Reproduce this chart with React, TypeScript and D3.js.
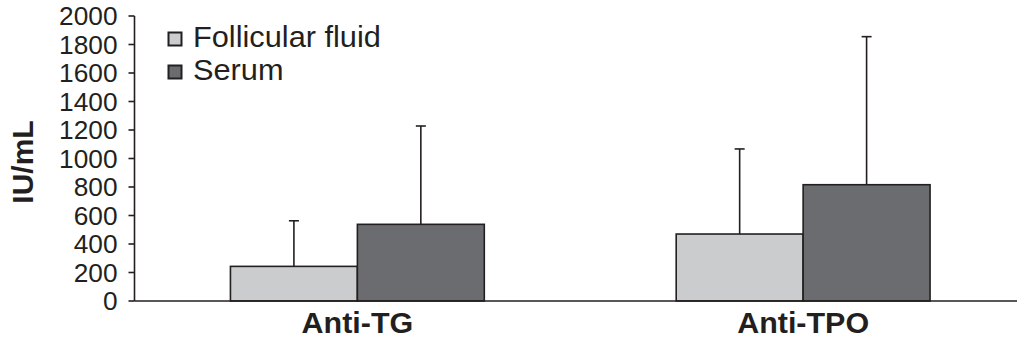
import React from "react";
import * as d3 from "d3";

// Antibody titres (IU/mL): mean and SD per sample type
const categories = ["Anti-TG", "Anti-TPO"];
const seriesNames = ["Follicular fluid", "Serum"];
const follicularMeans = [243, 470];
const follicularSD = [320, 597];
const serumMeans = [538, 816];
const serumSD = [690, 1039];
const yTicks = [0, 200, 400, 600, 800, 1000, 1200, 1400, 1600, 1800, 2000];

const colors = ["#cbcccd", "#6b6c70"];
const ink = "#231f20";
const font = "'Liberation Sans', Arial, sans-serif";

const W = 1017;
const H = 339;
const left = 134.5;
const plotRight = 1026;
const top = 16;
const bottom = 301;

export default function App() {
  const y = d3.scaleLinear().domain([0, 2000]).range([bottom, top]);
  const x0 = d3
    .scaleBand<string>()
    .domain(categories)
    .range([left, plotRight])
    .paddingInner(0.4305)
    .paddingOuter(0.21525);
  const x1 = d3
    .scaleBand<string>()
    .domain(seriesNames)
    .range([0, x0.bandwidth()])
    .padding(0);

  const means = [follicularMeans, serumMeans];
  const sds = [follicularSD, serumSD];

  return (
    <svg
      width={W}
      height={H}
      style={{ position: "absolute", left: 0, top: 0, background: "#fff" }}
      fontFamily={font}
    >
      {/* bars and error bars */}
      {categories.map((c, ci) => (
        <g key={c} transform={`translate(${x0(c)},0)`}>
          {seriesNames.map((s, si) => {
            const m = means[si][ci];
            const sd = sds[si][ci];
            const bx = x1(s)!;
            const cx = bx + x1.bandwidth() / 2;
            return (
              <g key={s}>
                <line
                  x1={cx}
                  x2={cx}
                  y1={y(m)}
                  y2={y(m + sd)}
                  stroke={ink}
                  strokeWidth={1.6}
                />
                <line
                  x1={cx - 5}
                  x2={cx + 5}
                  y1={y(m + sd)}
                  y2={y(m + sd)}
                  stroke={ink}
                  strokeWidth={1.6}
                />
                <rect
                  x={bx}
                  y={y(m)}
                  width={x1.bandwidth()}
                  height={y(0) - y(m)}
                  fill={colors[si]}
                  stroke={ink}
                  strokeWidth={1.6}
                />
              </g>
            );
          })}
          <text
            transform={`translate(${x0.bandwidth() / 2},332.5) scale(1.05,1)`}
            textAnchor="middle"
            fontSize={29}
            fontWeight="bold"
            fill={ink}
          >
            {c}
          </text>
        </g>
      ))}

      {/* y axis */}
      <line x1={left} x2={left} y1={top} y2={bottom} stroke={ink} strokeWidth={1.6} />
      <line x1={left} x2={W} y1={bottom} y2={bottom} stroke={ink} strokeWidth={1.6} />
      {yTicks.map((t) => (
        <g key={t}>
          <line x1={left - 6} x2={left} y1={y(t)} y2={y(t)} stroke={ink} strokeWidth={1.6} />
          <text
            transform={`translate(117.5,${y(t)}) scale(1.05,1)`}
            dy="0.36em"
            textAnchor="end"
            fontSize={25}
            fill={ink}
          >
            {t}
          </text>
        </g>
      ))}
      <text
        transform={`translate(33,162) rotate(-90)`}
        textAnchor="middle"
        fontSize={30}
        fontWeight="bold"
        fill={ink}
      >
        IU/mL
      </text>

      {/* legend */}
      {seriesNames.map((s, i) => (
        <g key={s} transform={`translate(168,${32 + i * 33})`}>
          <rect x={0.5} y={0.5} width={13} height={13} fill={colors[i]} stroke={ink} strokeWidth={2} />
          <text transform="translate(25,14.5) scale(1.06,1)" fontSize={29} fill={ink}>
            {s}
          </text>
        </g>
      ))}
    </svg>
  );
}
